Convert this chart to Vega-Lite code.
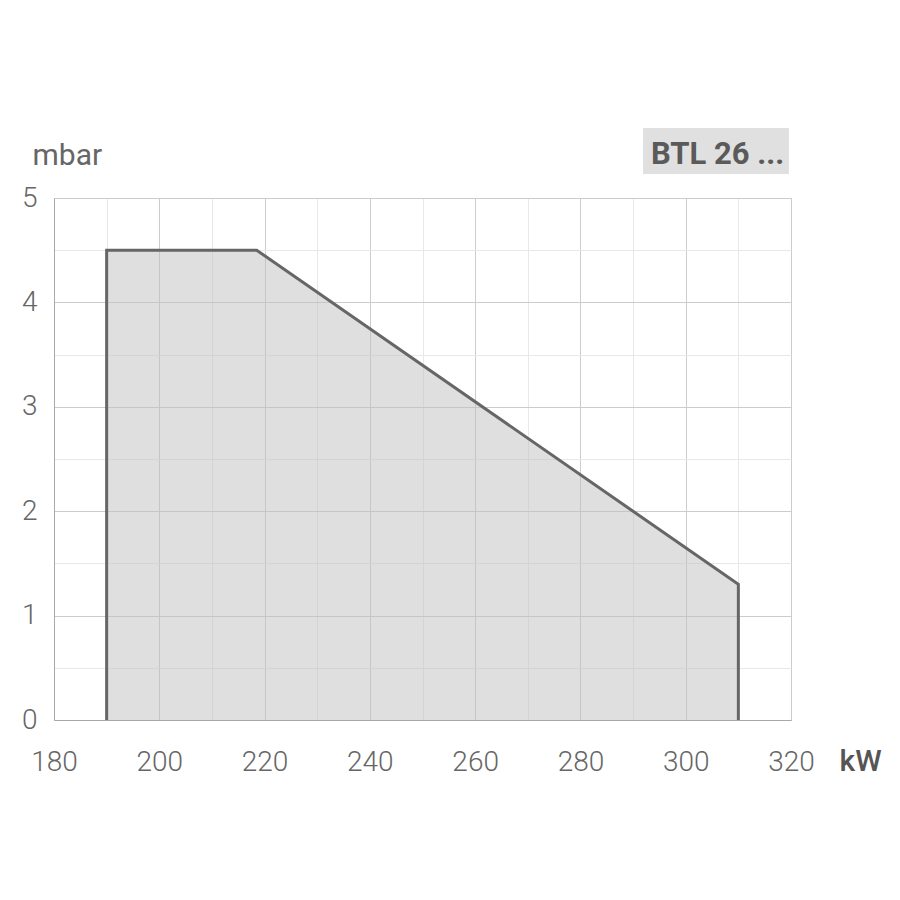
{
  "$schema": "https://vega.github.io/schema/vega-lite/v6.json",
  "autosize": {"type": "none"},
  "padding": {"left": 54, "top": 198, "right": 109, "bottom": 180},
  "width": 737,
  "height": 522,
  "background": "white",
  "config": {
    "view": {"stroke": "#c4c4c4", "strokeWidth": 1},
    "font": "Roboto"
  },
  "datasets": {
    "fill": [
      {"kw": 190, "mbar": 4.5},
      {"kw": 218.5, "mbar": 4.5},
      {"kw": 310, "mbar": 1.3}
    ],
    "outline": [
      {"kw": 190, "mbar": 0, "idx": 0},
      {"kw": 190, "mbar": 4.5, "idx": 1},
      {"kw": 218.5, "mbar": 4.5, "idx": 2},
      {"kw": 310, "mbar": 1.3, "idx": 3},
      {"kw": 310, "mbar": 0, "idx": 4}
    ],
    "tag": [
      {"x1": 291.9, "x2": 319.6, "y1": 5.23, "y2": 5.67, "tx": 293.4, "ty": 5.326, "label": "BTL 26 ..."}
    ]
  },
  "layer": [
    {
      "data": {"name": "fill"},
      "mark": {"type": "area", "fill": "#c0c0c0", "fillOpacity": 0.5, "stroke": null},
      "encoding": {
        "x": {
          "field": "kw", "type": "quantitative",
          "scale": {"domain": [180, 320], "nice": false, "zero": false},
          "axis": {
            "values": [180,185,190,195,200,205,210,215,220,225,230,235,240,245,250,255,260,265,270,275,280,285,290,295,300,305,310,315,320],
            "labelExpr": "datum.value % 20 === 0 ? format(datum.value, 'd') : ''",
            "ticks": false, "tickSize": 0,
            "grid": true,
            "gridColor": {"condition": {"test": "datum.value % 20 === 0", "value": "#cccccc"}, "value": "#e8e8e8"},
            "gridWidth": 1,
            "domain": true, "domainColor": "#a8a8a8", "domainWidth": 1,
            "labelFont": "Roboto", "labelFontSize": 28, "labelFontWeight": 300, "labelColor": "#666666",
            "labelBaseline": "alphabetic", "labelPadding": 50, "labelAlign": "center",
            "labelOverlap": false, "labelFlush": false,
            "title": "kW", "titleFont": "Roboto", "titleFontSize": 30, "titleFontWeight": 500, "titleColor": "#555555",
            "titleX": 785, "titleY": 50, "titleAlign": "left", "titleBaseline": "alphabetic", "titleAnchor": null
          }
        },
        "y": {
          "field": "mbar", "type": "quantitative",
          "scale": {"domain": [0, 5], "nice": false},
          "axis": {
            "values": [0,0.5,1,1.5,2,2.5,3,3.5,4,4.5,5],
            "labelExpr": "datum.value % 1 === 0 ? format(datum.value, 'd') : ''",
            "ticks": false, "tickSize": 0,
            "grid": true,
            "gridColor": {"condition": {"test": "datum.value % 1 === 0", "value": "#cccccc"}, "value": "#e8e8e8"},
            "gridWidth": 1,
            "domain": true, "domainColor": "#a8a8a8", "domainWidth": 1,
            "labelFont": "Roboto", "labelFontSize": 28, "labelFontWeight": 300, "labelColor": "#666666",
            "labelPadding": 17, "labelOverlap": false, "labelFlush": false, "labelBaseline": "middle",
            "title": "mbar", "titleFont": "Roboto", "titleFontSize": 30, "titleFontWeight": 400, "titleColor": "#666666",
            "titleAngle": 0, "titleX": -22, "titleY": -34, "titleAlign": "left", "titleBaseline": "alphabetic", "titleAnchor": null
          }
        }
      }
    },
    {
      "data": {"name": "outline"},
      "mark": {"type": "line", "color": "#666666", "strokeWidth": 3, "strokeJoin": "miter"},
      "encoding": {
        "x": {"field": "kw", "type": "quantitative"},
        "y": {"field": "mbar", "type": "quantitative"},
        "order": {"field": "idx", "type": "quantitative"}
      }
    },
    {
      "data": {"name": "tag"},
      "mark": {"type": "rect", "fill": "#e0e0e0", "clip": false},
      "encoding": {
        "x": {"field": "x1", "type": "quantitative"},
        "x2": {"field": "x2"},
        "y": {"field": "y1", "type": "quantitative"},
        "y2": {"field": "y2"}
      }
    },
    {
      "data": {"name": "tag"},
      "mark": {"type": "text", "font": "Roboto", "fontSize": 31, "fontWeight": "bold", "color": "#5a5a5a", "align": "left", "baseline": "alphabetic", "clip": false},
      "encoding": {
        "x": {"field": "tx", "type": "quantitative"},
        "y": {"field": "ty", "type": "quantitative"},
        "text": {"field": "label"}
      }
    }
  ]
}
